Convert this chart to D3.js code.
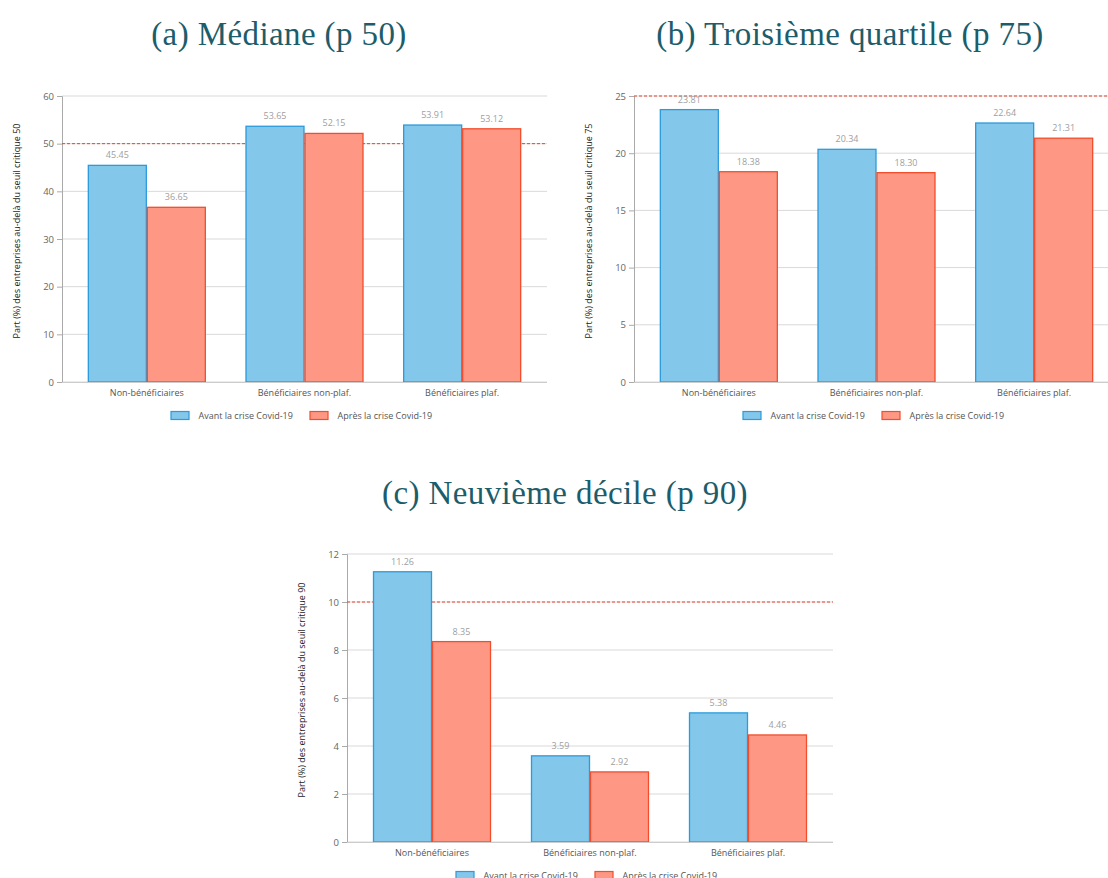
<!DOCTYPE html>
<html>
<head>
<meta charset="utf-8">
<script src="https://cdn.jsdelivr.net/npm/d3@7"></script>
<style>
  body { margin: 0; background: #fff; }
  .title { font-family: "Liberation Serif", serif; font-size: 33px; letter-spacing: 0.4px; fill: #1c5d6c; }
  .small { font-family: "Open Sans", sans-serif; font-size: 9px; }
</style>
</head>
<body>
<script>
// categories and series
var categories = ["Non-bénéficiaires", "Bénéficiaires non-plaf.", "Bénéficiaires plaf."];
var seriesNames = ["Avant la crise Covid-19", "Après la crise Covid-19"];

// values per panel
var p50Avant = [45.45, 53.65, 53.91];
var p50Apres = [36.65, 52.15, 53.12];
var p75Avant = [23.81, 20.34, 22.64];
var p75Apres = [18.38, 18.30, 21.31];
var p90Avant = [11.26, 3.59, 5.38];
var p90Apres = [8.35, 2.92, 4.46];

var titles = ["(a) Médiane (p 50)", "(b) Troisième quartile (p 75)", "(c) Neuvième décile (p 90)"];
var yLabels = ["Part (%) des entreprises au-delà du seuil critique 50",
               "Part (%) des entreprises au-delà du seuil critique 75",
               "Part (%) des entreprises au-delà du seuil critique 90"];
var seuils = [50, 25, 10];
var yMaxs = [60, 25, 12];
var yTicks = [[0,10,20,30,40,50,60], [0,5,10,15,20,25], [0,2,4,6,8,10,12]];

var fills = ["#83c7ea", "#fe9884"];
var strokes = ["#2b9bdb", "#f24d2c"];

var svg = d3.select("body").append("svg")
    .attr("width", 1108).attr("height", 878);

var panels = [
  {avant:p50Avant, apres:p50Apres, left:62, right:547, top:96, bottom:382, tx:279, ty:45, i:0},
  {avant:p75Avant, apres:p75Apres, left:634, right:1119, top:96, bottom:382, tx:850, ty:45, i:1},
  {avant:p90Avant, apres:p90Apres, left:347, right:833, top:554, bottom:842, tx:565, ty:504, i:2}
];

panels.forEach(function(p){
  var g = svg.append("g");
  var x = d3.scaleBand().domain(categories).range([p.left, p.right])
      .paddingInner(0).paddingOuter(0.038);
  var x1 = d3.scaleBand().domain([0,1]).range([0, 118]);
  var y = d3.scaleLinear().domain([0, yMaxs[p.i]]).range([p.bottom, p.top]);

  svg.append("text").attr("class","title")
    .attr("x", p.tx).attr("y", p.ty).attr("text-anchor","middle")
    .text(titles[p.i]);

  // grid
  g.selectAll(".grid").data(yTicks[p.i]).enter().append("line")
    .attr("x1", p.left).attr("x2", p.right)
    .attr("y1", function(d){return y(d);}).attr("y2", function(d){return y(d);})
    .attr("stroke", "#d9d9d9").attr("stroke-width", 1);

  // y axis
  var yAxis = g.append("g").attr("transform","translate("+p.left+",0)")
    .call(d3.axisLeft(y).tickValues(yTicks[p.i]).tickSize(5).tickPadding(3));
  yAxis.select(".domain").attr("stroke","#aaa");
  yAxis.selectAll(".tick line").attr("stroke","#aaa");
  yAxis.selectAll("text").attr("class","small").attr("fill","#666").style("font-size","9.5px");

  // threshold line
  g.append("line")
    .attr("x1", p.left).attr("x2", p.right)
    .attr("y1", y(seuils[p.i])).attr("y2", y(seuils[p.i]))
    .attr("stroke", "#e8452a").attr("stroke-width", 1).attr("stroke-dasharray","3,2");

  // bars
  var rows = categories.map(function(c, k){ return {cat:c, vals:[p.avant[k], p.apres[k]]}; });
  var groups = g.selectAll(".grp").data(rows).enter().append("g")
    .attr("transform", function(d){ return "translate("+(x(d.cat)+x.bandwidth()/2-59)+",0)"; });
  groups.selectAll("rect").data(function(d){ return d.vals; }).enter().append("rect")
    .attr("x", function(d,j){ return x1(j)+0.5; })
    .attr("y", function(d){ return y(d); })
    .attr("width", x1.bandwidth()-1)
    .attr("height", function(d){ return p.bottom - y(d); })
    .attr("fill", function(d,j){ return fills[j]; })
    .attr("stroke", function(d,j){ return strokes[j]; })
    .attr("stroke-width", 1.3);
  groups.selectAll(".val").data(function(d){ return d.vals; }).enter().append("text")
    .attr("class","small")
    .attr("x", function(d,j){ return x1(j)+x1.bandwidth()/2; })
    .attr("y", function(d){ return y(d)-7; })
    .attr("text-anchor","middle").attr("fill","#a0a0a0")
    .text(function(d){ return d3.format(".2f")(d); });

  // x axis
  g.append("line").attr("x1", p.left).attr("x2", p.right)
    .attr("y1", p.bottom+0.5).attr("y2", p.bottom+0.5).attr("stroke","#ccc");
  g.selectAll(".cat").data(categories).enter().append("text")
    .attr("class","small")
    .attr("x", function(d){ return x(d)+x.bandwidth()/2; })
    .attr("y", p.bottom+14).attr("text-anchor","middle").attr("fill","#555")
    .text(function(d){ return d; });

  // y label
  var cy = (p.top+p.bottom)/2 - 8;
  g.append("text").attr("class","small")
    .attr("transform","translate("+(p.left-42)+","+cy+") rotate(-90)")
    .attr("text-anchor","middle").attr("fill","#222")
    .text(yLabels[p.i]);

  // legend
  var lc = (p.left + 547 - 62 + p.left)/2;
  var ly = p.bottom + 29;
  var leg = g.append("g").attr("transform","translate("+(lc-134)+","+ly+")");
  seriesNames.forEach(function(s, j){
    var ox = j*139;
    leg.append("rect").attr("x", ox+0.5).attr("y", 0.5).attr("width", 18).attr("height", 8)
      .attr("fill", fills[j]).attr("stroke", strokes[j]).attr("stroke-width",1.2);
    leg.append("text").attr("class","small").attr("x", ox+28).attr("y", 8)
      .attr("fill","#555").text(s);
  });
});
</script>
</body>
</html>
